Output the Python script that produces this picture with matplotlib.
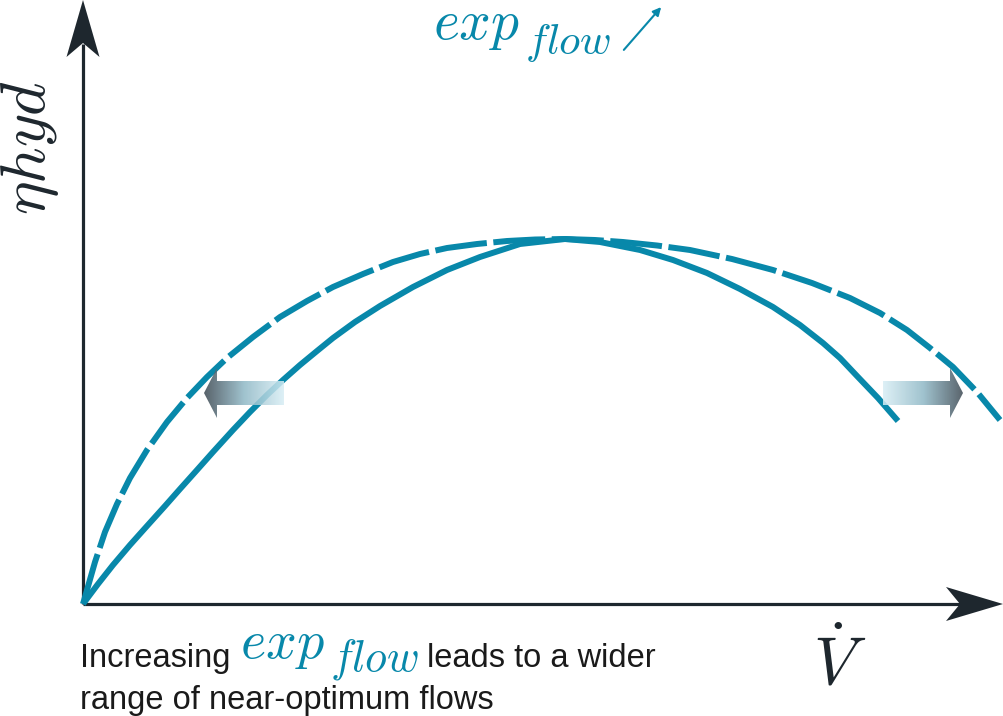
import matplotlib.pyplot as plt
import numpy as np
from matplotlib.patches import Polygon
from matplotlib.colors import LinearSegmentedColormap

plt.rcParams['mathtext.fontset'] = 'cm'

TEAL = '#0888aa'
DARK = '#1e272e'

# solid curve (exp_flow small)
v_solid = [0, 0.15, 0.30, 0.47, 0.64, 0.82, 0.97, 1.14, 1.30, 1.50, 1.67, 1.84,
           2.00, 2.17, 2.34, 2.50, 2.72, 2.97, 3.30, 3.64, 3.97, 4.37, 4.82,
           5.17, 5.57, 5.90, 6.24, 6.57, 6.90, 7.17, 7.40, 7.57, 7.74, 7.95, 8.15]
eta_solid = [0, 0.20, 0.39, 0.59, 0.78, 0.98, 1.15, 1.34, 1.52, 1.74, 1.92, 2.09,
             2.24, 2.39, 2.53, 2.66, 2.82, 2.98, 3.17, 3.34, 3.47, 3.60, 3.65,
             3.62, 3.54, 3.44, 3.31, 3.15, 2.97, 2.79, 2.61, 2.46, 2.28, 2.06, 1.83]

# dashed curve (exp_flow increased)
v_dash = [0, 0.06, 0.12, 0.22, 0.34, 0.47, 0.64, 0.84, 1.04, 1.24, 1.44, 1.70,
          1.97, 2.24, 2.50, 2.80, 3.10, 3.37, 3.64, 3.94, 4.24, 4.52, 4.82,
          5.12, 5.40, 5.74, 6.07, 6.49, 6.90, 7.29, 7.67, 7.97, 8.24, 8.47,
          8.70, 8.94, 9.17]
eta_dash = [0, 0.21, 0.42, 0.72, 1.00, 1.26, 1.54, 1.82, 2.06, 2.27, 2.46, 2.67,
            2.87, 3.03, 3.17, 3.30, 3.42, 3.50, 3.56, 3.60, 3.63, 3.645, 3.65,
            3.64, 3.62, 3.585, 3.54, 3.45, 3.34, 3.21, 3.06, 2.91, 2.74, 2.56,
            2.37, 2.12, 1.84]

fig = plt.figure(figsize=(10.04, 7.16), dpi=100)
ax = fig.add_axes([0, 0, 1, 1])
ax.set_xlim(-0.83, 9.21)
ax.set_ylim(-1.12, 6.04)
ax.axis('off')

# axes with notched arrow heads
ax.plot([0, 0], [0, 5.6], color=DARK, lw=2.3, solid_capstyle='butt', zorder=3)
ax.plot([0, 8.8], [0, 0], color=DARK, lw=2.3, solid_capstyle='butt', zorder=3)
ax.add_patch(Polygon([(0, 6.04), (-0.165, 5.47), (0, 5.61), (0.165, 5.47)],
                     closed=True, color=DARK, lw=0, zorder=3))
ax.add_patch(Polygon([(9.2, 0), (8.63, 0.17), (8.77, 0), (8.63, -0.17)],
                     closed=True, color=DARK, lw=0, zorder=3))

# curves
ax.plot(v_solid, eta_solid, color=TEAL, lw=4.3, solid_joinstyle='round',
        solid_capstyle='butt', zorder=4)
ax.plot(v_dash, eta_dash, color=TEAL, lw=4.3, dashes=(8.7, 1.1),
        dash_capstyle='butt', dash_joinstyle='round', zorder=4)

# gradient arrows
cmap = LinearSegmentedColormap.from_list('g', ['#3a4650', '#8fb8c6', '#d8eef5'])


def grad_arrow(tip_x, tip_y, direction):
    head, body, hh, bh = 0.13, 0.67, 0.25, 0.12
    d = direction
    base = tip_x - d * head
    end = base - d * body
    pts = [(tip_x, tip_y), (base, tip_y + hh), (base, tip_y + bh), (end, tip_y + bh),
           (end, tip_y - bh), (base, tip_y - bh), (base, tip_y - hh)]
    poly = Polygon(pts, closed=True, facecolor='none', edgecolor='none')
    ax.add_patch(poly)
    g = np.linspace(0, 1, 256)[None, :]
    if d > 0:
        g = g[:, ::-1]
    x0, x1 = min(tip_x, end), max(tip_x, end)
    im = ax.imshow(g, cmap=cmap, extent=[x0, x1, tip_y - hh, tip_y + hh],
                   aspect='auto', zorder=5, alpha=0.85)
    im.set_clip_path(poly)


grad_arrow(1.21, 2.11, -1)
grad_arrow(8.80, 2.11, 1)

# labels
ax.text(3.50, 5.65, r'$exp$', color=TEAL, fontsize=40, ha='left', va='baseline')
ax.text(4.42, 5.50, r'$flow$', color=TEAL, fontsize=31, ha='left', va='baseline')
ax.annotate('', xy=(5.80, 5.99), xytext=(5.39, 5.52),
            arrowprops=dict(arrowstyle='-|>', color=TEAL, lw=1.5,
                            mutation_scale=12))
ax.text(-0.53, 4.56, r'$\eta hyd$', color=DARK, fontsize=46, rotation=90,
        ha='center', va='center')
ax.text(7.57, -0.61, r'$\dot{V}$', color=DARK, fontsize=48,
        ha='center', va='center')

ax.text(-0.03, -0.63, 'Increasing', family='Liberation Sans', fontsize=23.5,
        color='#1a1a1a', ha='left', va='baseline')
ax.text(1.57, -0.54, r'$exp$', color=TEAL, fontsize=39, ha='left', va='baseline')
ax.text(2.47, -0.66, r'$flow$', color=TEAL, fontsize=32, ha='left', va='baseline')
ax.text(3.44, -0.63, 'leads to a wider', family='Liberation Sans', fontsize=23.5,
        color='#1a1a1a', ha='left', va='baseline')
ax.text(-0.03, -1.05, 'range of near-optimum flows', family='Liberation Sans',
        fontsize=23.5, color='#1a1a1a', ha='left', va='baseline')

fig.savefig('out.png', dpi=100)
